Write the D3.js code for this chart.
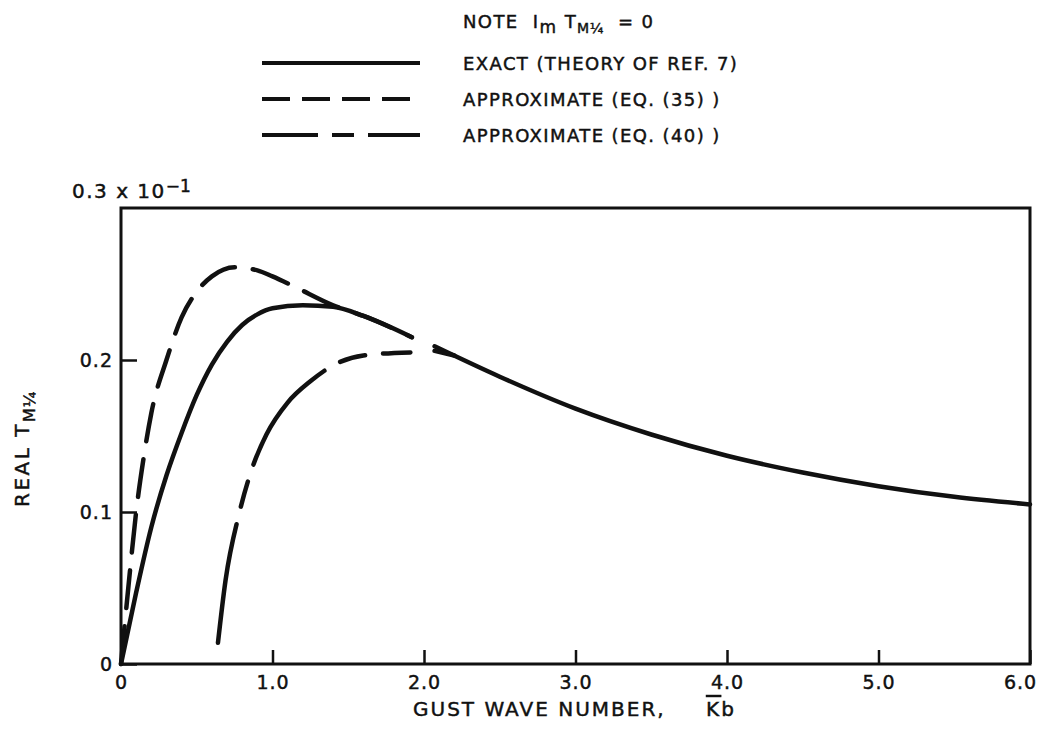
<!DOCTYPE html>
<meta charset="utf-8">
<script src="https://d3js.org/d3.v7.min.js"></script>
<style>
  body { margin: 0; background: #fff; }
  text { font-family: "DejaVu Sans", "Liberation Sans", Arial, sans-serif; fill: #111; stroke: #111; stroke-width: 0.45px; }
</style>
<div id="my_dataviz"></div>
<script>

    // data (Kb, real T_M1/4); null marks a break in the line
    var exactK = [0, 0.1, 0.2, 0.3, 0.4, 0.5, 0.6, 0.7, 0.8, 0.9, 1.0, 1.2, 1.4, 1.6, 1.92, null, 2.07, 2.5, 3.0, 3.5, 4.0, 4.5, 5.0, 5.5, 6.0];
    var exactT = [0, 0.0047, 0.0090, 0.0124, 0.0152, 0.0177, 0.0197, 0.0212, 0.0223, 0.0230, 0.0234, 0.0236, 0.0235, 0.0229, 0.0215, null, 0.0209, 0.0189, 0.0168, 0.0151, 0.0137, 0.0126, 0.0117, 0.0110, 0.0105];

    var eq35K = [0, 0.05, 0.1, 0.15, 0.2, 0.3, 0.4, 0.5, 0.6, 0.75, 0.9, 1.0, 1.15, 1.4, 1.6, 1.92];
    var eq35T = [0, 0.0052, 0.0100, 0.0136, 0.0165, 0.0200, 0.0228, 0.0245, 0.0255, 0.0261, 0.0259, 0.0255, 0.0248, 0.0236, 0.0229, 0.0215];

    var eq40K = [0.64, 0.69, 0.78, 0.87, 0.96, 1.1, 1.25, 1.43, 1.6, 1.91, null, 2.07, 2.2];
    var eq40T = [0.0014, 0.0055, 0.0099, 0.0130, 0.0151, 0.0172, 0.0186, 0.0198, 0.0203, 0.0205, null, 0.0206, 0.0203];

    var xTicks = [0, 1, 2, 3, 4, 5, 6];
    var xTickLabels = ["0", "1.0", "2.0", "3.0", "4.0", "5.0", "6.0"];
    var yTicks = [0, 0.01, 0.02];
    var yTickLabels = ["0", "0.1", "0.2"];

    var legendLabels = ["EXACT (THEORY OF REF. 7)", "APPROXIMATE (EQ. (35) )", "APPROXIMATE (EQ. (40) )"];

    // plot box in page pixels
    var W = 1041, H = 749;
    var plotLeft = 121, plotRight = 1030, plotTop = 208, plotBottom = 664;

    var svg = d3.select("#my_dataviz")
        .append("svg")
        .attr("width", W)
        .attr("height", H);

    var x = d3.scaleLinear().domain([0, 6]).range([plotLeft, plotRight]);
    var y = d3.scaleLinear().domain([0, 0.03]).range([plotBottom, plotTop]);

    // x axis, ticks point up into the box
    var xAxis = svg.append("g")
        .attr("transform", "translate(0," + plotBottom + ")")
        .call(d3.axisBottom(x).tickValues(xTicks).tickSize(-14).tickPadding(12)
            .tickFormat(function (d, i) { return xTickLabels[i]; }));
    xAxis.select(".domain").remove();
    xAxis.selectAll("line").attr("stroke", "#111").attr("stroke-width", 2.5);
    xAxis.selectAll("text").attr("font-size", 19).attr("letter-spacing", 1).attr("fill", "#111")
        .style("font-family", "DejaVu Sans, sans-serif");
    // last label sits just inside the page edge
    xAxis.selectAll("text").filter(function (d) { return d === 6; }).attr("dx", -10);

    // y axis
    var yAxis = svg.append("g")
        .attr("transform", "translate(" + plotLeft + ",0)")
        .call(d3.axisLeft(y).tickValues(yTicks).tickSize(-16).tickPadding(8)
            .tickFormat(function (d, i) { return yTickLabels[i]; }));
    yAxis.select(".domain").remove();
    yAxis.selectAll("line").attr("stroke", "#111").attr("stroke-width", 2.5);
    yAxis.selectAll("text").attr("font-size", 19).attr("letter-spacing", 1).attr("fill", "#111")
        .style("font-family", "DejaVu Sans, sans-serif");

    // frame
    svg.append("rect")
        .attr("x", plotLeft).attr("y", plotTop)
        .attr("width", plotRight - plotLeft).attr("height", plotBottom - plotTop)
        .attr("fill", "none").attr("stroke", "#111").attr("stroke-width", 3);

    // top-of-axis value
    var topLab = svg.append("text").attr("x", 72).attr("y", 198)
        .attr("font-size", 20).attr("letter-spacing", 1.5);
    topLab.append("tspan").text("0.3 x 10");
    topLab.append("tspan").attr("dy", -6).attr("font-size", 17).attr("letter-spacing", 0).text("\u22121");

    // axis titles
    var xt = svg.append("text").attr("x", 413).attr("y", 716)
        .attr("font-size", 20).attr("letter-spacing", 2);
    xt.append("tspan").text("GUST WAVE NUMBER,");
    xt.append("tspan").attr("x", 706).style("text-decoration", "overline").text("K");
    xt.append("tspan").text("b");

    var yt = svg.append("text")
        .attr("transform", "translate(29,507) rotate(-90)")
        .attr("font-size", 20).attr("letter-spacing", 2.5);
    yt.append("tspan").text("REAL T");
    yt.append("tspan").attr("dy", 6).attr("font-size", 16).attr("letter-spacing", 1).text("M\u00bc");

    // curves
    function series(ks, ts) {
        return ks.map(function (k, i) { return { k: k, t: ts[i] }; });
    }
    var line = d3.line()
        .defined(function (d) { return d.t !== null; })
        .x(function (d) { return x(d.k); })
        .y(function (d) { return y(d.t); })
        .curve(d3.curveMonotoneX);

    var styles = [
        { data: series(exactK, exactT), dash: null, legendDash: null },
        { data: series(eq35K, eq35T), dash: "38,18", legendDash: "28,12" },
        { data: series(eq40K, eq40T), dash: "120,18,26,18", legendDash: "56,14,22,14,60" }
    ];

    styles.forEach(function (s) {
        svg.append("path")
            .datum(s.data)
            .attr("fill", "none")
            .attr("stroke", "#111")
            .attr("stroke-width", 4.5)
            .attr("stroke-linecap", "round")
            .attr("stroke-dasharray", s.dash)
            .attr("d", line);
    });

    // legend
    var note = svg.append("text").attr("x", 463).attr("y", 28)
        .attr("font-size", 18).attr("letter-spacing", 1.4);
    note.append("tspan").text("NOTE\u00a0\u00a0I");
    note.append("tspan").attr("dy", 5).attr("font-size", 17).text("m");
    note.append("tspan").attr("dy", -5).text(" T");
    note.append("tspan").attr("dy", 5).attr("font-size", 14).attr("letter-spacing", 0.5).text("M\u00bc");
    note.append("tspan").attr("dy", -5).text("\u00a0\u00a0= 0");

    var rowY = [63, 99, 135];
    styles.forEach(function (s, i) {
        svg.append("line")
            .attr("x1", 262).attr("x2", 420)
            .attr("y1", rowY[i]).attr("y2", rowY[i])
            .attr("stroke", "#111").attr("stroke-width", 4)
            .attr("stroke-dasharray", s.legendDash);
        svg.append("text")
            .attr("x", 463).attr("y", rowY[i] + 7)
            .attr("font-size", 18).attr("letter-spacing", 1.4)
            .text(legendLabels[i]);
    });

</script>
